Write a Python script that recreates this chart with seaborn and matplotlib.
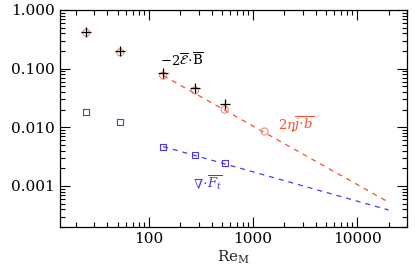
import numpy as np
import pandas as pd
import seaborn as sns
import matplotlib
matplotlib.use('Agg')
import matplotlib.pyplot as plt
from matplotlib.ticker import LogLocator, FixedLocator, FixedFormatter, NullFormatter

# data
re_m = [25, 53, 137, 276, 533]
emf_b = [0.42, 0.20, 0.0845, 0.047, 0.025]          # -2 E.B  (black +)
re_m_j = [25, 53, 137, 276, 533, 1290]
eta_jb = [0.41, 0.19, 0.076, 0.0426, 0.020, 0.0085]  # 2 eta j.b  (red o)
div_f = [0.018, 0.0123, 0.0047, 0.0034, 0.00245]     # div F_t  (blue squares)

fit_x = [137, 20000]
fit_red = [0.076, 0.00053]
fit_blue = [0.0047, 0.00039]

red = '#f5502f'
red_light = '#f08a78'
blue = '#4a3ae8'

sns.set_style('ticks')
plt.rcParams['font.family'] = ['DejaVu Serif']
plt.rcParams['mathtext.fontset'] = 'dejavuserif'
plt.rcParams['xtick.direction'] = 'in'
plt.rcParams['ytick.direction'] = 'in'

fig = plt.figure(figsize=(4.15, 2.77), dpi=100)
ax = fig.add_axes([0.1446, 0.1805, 0.836, 0.7835])

sns.lineplot(x=fit_x, y=fit_red, ax=ax, color=red, lw=0.9, linestyle=(0, (4, 4)))
sns.lineplot(x=fit_x, y=fit_blue, ax=ax, color=blue, lw=0.9, linestyle=(0, (4, 4)))

sns.scatterplot(x=re_m_j, y=eta_jb, ax=ax, marker='o', s=26, facecolor='none',
                edgecolor=red_light, linewidth=0.8, zorder=3)
sns.scatterplot(x=re_m, y=div_f, ax=ax, marker='s', s=18, facecolor='none',
                edgecolor=blue, linewidth=0.8, zorder=3)
sns.scatterplot(x=re_m, y=emf_b, ax=ax, marker='+', s=50, color='black',
                linewidth=0.9, zorder=4)

ax.set_xscale('log')
ax.set_yscale('log')
ax.set_xlim(14, 30000)
ax.set_ylim(2e-4, 1.0)

ax.xaxis.set_major_locator(FixedLocator([100, 1000, 10000]))
ax.xaxis.set_major_formatter(FixedFormatter(['100', '1000', '10000']))
ax.xaxis.set_minor_locator(LogLocator(base=10, subs=np.arange(2, 10)))
ax.xaxis.set_minor_formatter(NullFormatter())
yt = [1e-3, 1e-2, 1e-1, 1.0]
ax.yaxis.set_major_locator(FixedLocator(yt))
ax.yaxis.set_major_formatter(FixedFormatter(['0.001', '0.010', '0.100', '1.000']))
ax.yaxis.set_minor_locator(LogLocator(base=10, subs=np.arange(2, 10)))
ax.yaxis.set_minor_formatter(NullFormatter())

ax.tick_params(which='both', top=True, right=True, labelsize=11, width=0.8, colors='black')
ax.tick_params(which='major', length=7)
ax.tick_params(which='minor', length=3.5)
for sp in ax.spines.values():
    sp.set_linewidth(0.9)
    sp.set_color('black')

ax.set_xlabel(r'$\mathrm{Re}_\mathrm{M}$', fontsize=11, labelpad=2)
ax.set_ylabel('')

ax.text(128, 0.137, r'$-2\overline{\mathcal{E}}\!\cdot\!\overline{\mathrm{B}}$',
        fontsize=9.5, color='black', va='center', ha='left')
ax.text(1750, 0.0112, r'$2\eta\overline{j\!\cdot\! b}$',
        fontsize=9.5, color=red, va='center', ha='left')
ax.text(265, 0.00115, r'$\nabla\!\cdot\!\overline{F_t}$',
        fontsize=9.5, color=blue, va='center', ha='left')

fig.savefig('out.png', dpi=100)
